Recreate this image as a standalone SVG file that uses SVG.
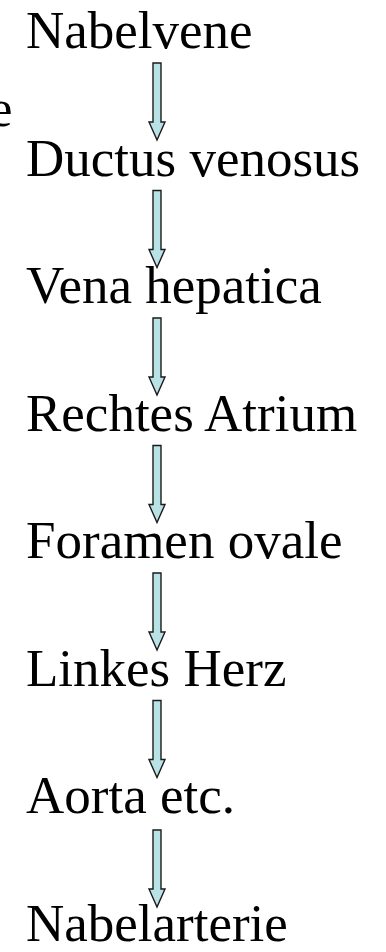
<svg xmlns="http://www.w3.org/2000/svg" xmlns:xlink="http://www.w3.org/1999/xlink" width="386" height="952" viewBox="0 0 386 952">
  <style>
    .lbl { font-family: "Liberation Serif", "Times New Roman", serif; font-size: 53px; fill: #000; }
    .arr { fill: #B9E2E6; stroke: #1a1a1a; stroke-width: 1.4; stroke-linejoin: miter; }
  </style>
  <defs>
    <path id="arrow" class="arr" d="M -4 0 L 4 0 L 4 59 L 8 59 L 0 77 L -8 59 L -4 59 Z"/>
  </defs>
  <rect width="386" height="952" fill="#fff"/>
  <g id="cut-off-text">
    <text class="lbl" x="-11" y="126">e</text>
  </g>
  <g id="connectors">
    <use xlink:href="#arrow" href="#arrow" transform="translate(157,63)"/>
    <use xlink:href="#arrow" href="#arrow" transform="translate(157,190.5)"/>
    <use xlink:href="#arrow" href="#arrow" transform="translate(157,318)"/>
    <use xlink:href="#arrow" href="#arrow" transform="translate(157,445.5)"/>
    <use xlink:href="#arrow" href="#arrow" transform="translate(157,573)"/>
    <use xlink:href="#arrow" href="#arrow" transform="translate(157,700.5)"/>
    <use xlink:href="#arrow" href="#arrow" transform="translate(157,830)"/>
  </g>
  <g id="nabelvene"><text class="lbl" x="26" y="48">Nabelvene</text></g>
  <g id="ductus-venosus"><text class="lbl" x="26" y="175.5">Ductus venosus</text></g>
  <g id="vena-hepatica"><text class="lbl" x="26" y="303">Vena hepatica</text></g>
  <g id="rechtes-atrium"><text class="lbl" x="26" y="430.5">Rechtes Atrium</text></g>
  <g id="foramen-ovale"><text class="lbl" x="26" y="558">Foramen ovale</text></g>
  <g id="linkes-herz"><text class="lbl" x="26" y="685.5">Linkes Herz</text></g>
  <g id="aorta-etc"><text class="lbl" x="26" y="813">Aorta etc.</text></g>
  <g id="nabelarterie"><text class="lbl" x="26" y="940.5">Nabelarterie</text></g>
</svg>
